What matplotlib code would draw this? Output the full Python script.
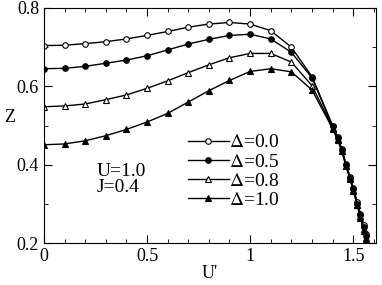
import matplotlib
matplotlib.use("Agg")
import matplotlib.pyplot as plt
from matplotlib.ticker import MultipleLocator, FormatStrFormatter

plt.rcParams['font.family'] = ['Liberation Serif', 'DejaVu Serif']
plt.rcParams['mathtext.fontset'] = 'stix'

u_main = [0.0, 0.1, 0.2, 0.3, 0.4, 0.5, 0.6, 0.7, 0.8, 0.9, 1.0, 1.1, 1.2, 1.3]
u_tail = [1.40, 1.425, 1.445, 1.465, 1.485, 1.50, 1.52, 1.535, 1.55, 1.56]

z_d00 = [0.704, 0.705, 0.709, 0.714, 0.721, 0.730, 0.740, 0.751, 0.759, 0.763, 0.759, 0.742, 0.700, 0.625]
z_d05 = [0.645, 0.646, 0.651, 0.659, 0.667, 0.678, 0.693, 0.708, 0.720, 0.730, 0.733, 0.721, 0.687, 0.622]
z_d08 = [0.548, 0.550, 0.555, 0.566, 0.578, 0.595, 0.614, 0.635, 0.655, 0.673, 0.684, 0.684, 0.662, 0.602]
z_d10 = [0.451, 0.453, 0.461, 0.474, 0.490, 0.509, 0.531, 0.560, 0.589, 0.615, 0.638, 0.645, 0.637, 0.591]

tail_d00 = [0.500, 0.470, 0.440, 0.402, 0.368, 0.340, 0.305, 0.275, 0.245, 0.222]
tail_d05 = [0.498, 0.468, 0.438, 0.400, 0.367, 0.338, 0.300, 0.272, 0.240, 0.218]
tail_d08 = [0.495, 0.465, 0.436, 0.398, 0.365, 0.336, 0.298, 0.268, 0.236, 0.214]
tail_d10 = [0.492, 0.462, 0.434, 0.396, 0.363, 0.334, 0.296, 0.265, 0.232, 0.210]

labels = [r'$\Delta$=0.0', r'$\Delta$=0.5', r'$\Delta$=0.8', r'$\Delta$=1.0']

fig = plt.figure(figsize=(3.82, 2.85), dpi=100)
ax = fig.add_axes([0.115, 0.147, 0.869, 0.825])

series = [(z_d00, tail_d00, 'o', 'white'),
          (z_d05, tail_d05, 'o', 'black'),
          (z_d08, tail_d08, '^', 'white'),
          (z_d10, tail_d10, '^', 'black')]

for (zm, zt, mk, fc), lab in zip(series, labels):
    ax.plot(u_main + u_tail, zm + zt, color='black', linewidth=1, marker=mk,
            markersize=4, markerfacecolor=fc, markeredgecolor='black',
            markeredgewidth=0.8, label=lab)

ax.set_xlim(0, 1.61)
ax.set_ylim(0.2, 0.8)
ax.xaxis.set_major_locator(MultipleLocator(0.5))
ax.xaxis.set_minor_locator(MultipleLocator(0.1))
ax.yaxis.set_major_locator(MultipleLocator(0.2))
ax.yaxis.set_minor_locator(MultipleLocator(0.1))
ax.xaxis.set_major_formatter(FormatStrFormatter('%g'))
ax.yaxis.set_major_formatter(FormatStrFormatter('%.1f'))
ax.tick_params(which='both', direction='in', top=True, right=True, labelsize=13)
ax.tick_params(which='major', length=6)
ax.tick_params(which='minor', length=3)

ax.set_xlabel("U'", fontsize=13, labelpad=0)
ax.set_ylabel('Z', fontsize=13, rotation=0, labelpad=5)

ax.text(0.255, 0.405, 'U=1.0\nJ=0.4', fontsize=14, linespacing=0.95, va='top')

ax.legend(loc='upper left', bbox_to_anchor=(0.434, 0.465), frameon=False,
          fontsize=14, handlelength=2.1, handletextpad=0.0, labelspacing=0.08,
          borderaxespad=0, borderpad=0)

fig.savefig('out.png', dpi=100)
